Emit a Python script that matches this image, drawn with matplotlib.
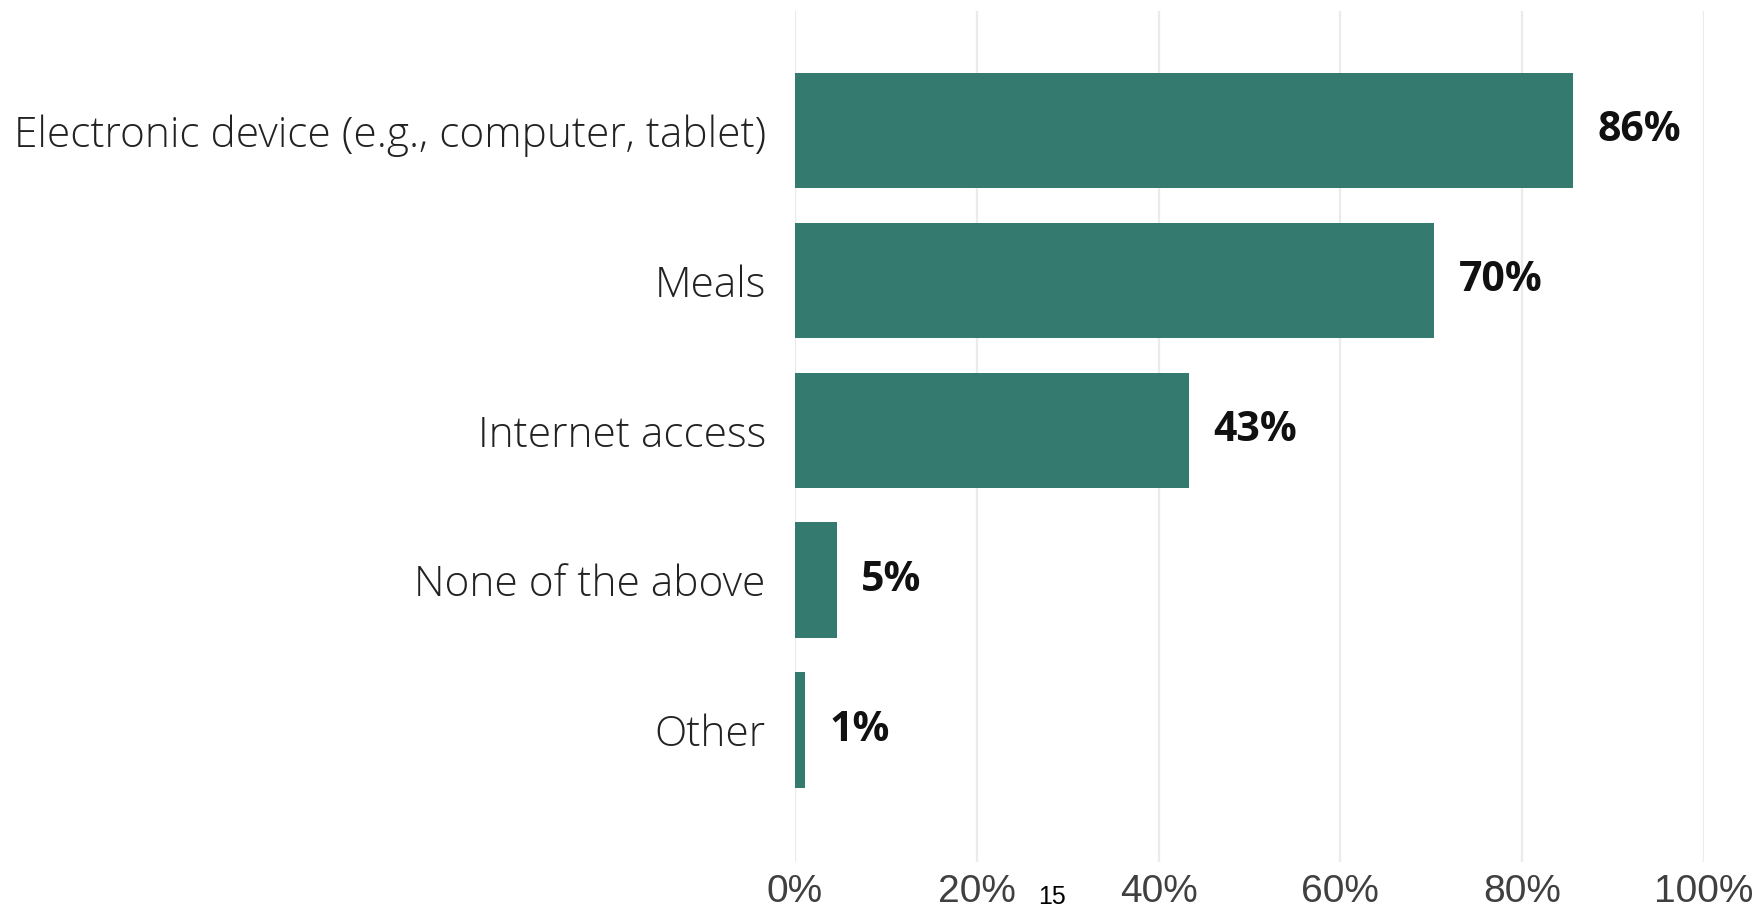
import glob
import matplotlib
matplotlib.use("Agg")
import matplotlib.pyplot as plt
from matplotlib import font_manager

categories = ["Electronic device (e.g., computer, tablet)", "Meals", "Internet access",
              "None of the above", "Other"]
values = [85.6, 70.3, 43.3, 4.6, 1.1]
xticks = [0, 20, 40, 60, 80, 100]
xtick_labels = ["0%", "20%", "40%", "60%", "80%", "100%"]

# try to register a narrow face if it exists on the system
tick_family = ["Liberation Sans", "DejaVu Sans"]
tick_size = 28
for f in glob.glob("/usr/share/fonts/**/LiberationSansNarrow-Regular.ttf", recursive=True):
    try:
        font_manager.fontManager.addfont(f)
        tick_family = ["Liberation Sans Narrow", "Liberation Sans", "DejaVu Sans"]
        tick_size = 30
    except Exception:
        pass
    break

W, H = 1757, 909
fig = plt.figure(figsize=(W / 100, H / 100), dpi=100)
ax = fig.add_axes([795 / W, 1 - 862 / H, (1704 - 795) / W, (862 - 11) / H])

color = "#347A6F"
ypos = list(range(len(categories)))
ax.barh(ypos, values, height=0.77, color=color, zorder=3)
ax.set_xlim(0, 100)
ax.set_ylim(4.88, -0.797)

for y, v in zip(ypos, values):
    ax.text(v + 2.7, y, f"{v:.0f}%", va="center", ha="left", fontsize=29.5,
            fontweight="bold", family=["Open Sans", "DejaVu Sans"], color="#111111")

ax.set_yticks(ypos)
ax.set_yticklabels(categories, fontsize=30.5, family=["Open Sans", "DejaVu Sans"],
                   fontweight="light", color="#222222")
ax.set_xticks(xticks)
ax.set_xticklabels(xtick_labels, fontsize=tick_size, family=tick_family, color="#404040")
ax.tick_params(axis="y", length=0, pad=21)
ax.tick_params(axis="x", length=0, pad=9)
ax.grid(axis="x", color="#EBEBEB", linewidth=1.6, zorder=0)
for s in ax.spines.values():
    s.set_visible(False)

fig.text(1052 / W, 1 - 897 / H, "15", fontsize=18, ha="center", va="center",
         family=["Liberation Sans", "DejaVu Sans"], color="#000000")

fig.savefig("out.png", dpi=100)
